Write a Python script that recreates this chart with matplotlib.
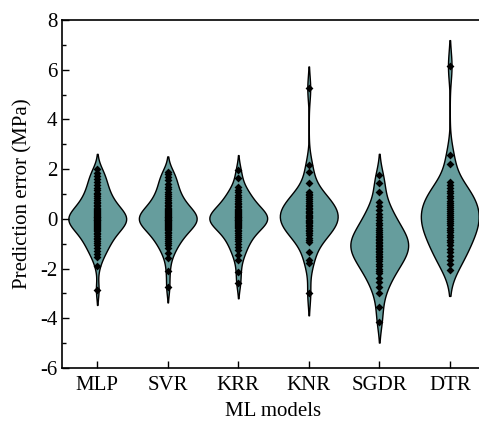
import matplotlib
matplotlib.use('Agg')
import matplotlib.pyplot as plt
import pandas as pd
import seaborn as sns

models = ['MLP', 'SVR', 'KRR', 'KNR', 'SGDR', 'DTR']

# prediction errors (MPa)
mlp = [2.0, 1.85, 1.72, 1.6, 1.48, 1.36, 1.25, 1.15, 1.06, 0.98, 0.9, 0.82, 0.75,
       0.68, 0.62, 0.56, 0.5, 0.45, 0.4, 0.35, 0.31, 0.27, 0.23, 0.19, 0.15, 0.12,
       0.09, 0.06, 0.03, 0.0, -0.03, -0.06, -0.09, -0.12, -0.15, -0.19, -0.23,
       -0.27, -0.31, -0.35, -0.4, -0.45, -0.5, -0.56, -0.62, -0.68, -0.75, -0.82,
       -0.9, -0.98, -1.07, -1.17, -1.28, -1.4, -1.52, -1.88, -2.85]
svr = [1.9, 1.8, 1.68, 1.55, 1.42, 1.3, 1.19, 1.09, 1.0, 0.92, 0.84, 0.76, 0.69,
       0.62, 0.56, 0.5, 0.45, 0.4, 0.35, 0.31, 0.27, 0.23, 0.19, 0.15, 0.12, 0.09,
       0.06, 0.03, 0.0, -0.03, -0.06, -0.09, -0.12, -0.15, -0.19, -0.23, -0.27,
       -0.31, -0.36, -0.41, -0.46, -0.52, -0.58, -0.65, -0.72, -0.8, -0.88, -0.97,
       -1.07, -1.18, -1.37, -1.58, -2.1, -2.75]
krr = [1.97, 1.64, 1.3, 1.18, 1.07, 0.97, 0.88, 0.8, 0.72, 0.65, 0.58, 0.52, 0.46,
       0.41, 0.36, 0.31, 0.27, 0.23, 0.19, 0.15, 0.12, 0.09, 0.06, 0.03, 0.0, -0.03,
       -0.06, -0.09, -0.12, -0.16, -0.2, -0.24, -0.28, -0.33, -0.38, -0.44, -0.5,
       -0.57, -0.64, -0.72, -0.81, -0.91, -1.02, -1.13, -1.25, -1.45, -1.65, -2.12,
       -2.6]
knr = [5.25, 2.17, 1.9, 1.44, 1.1, 1.02, 0.94, 0.86, 0.78, 0.7, 0.63, 0.56, 0.5,
       0.44, 0.38, 0.32, 0.27, 0.22, 0.17, 0.12, 0.07, 0.02, -0.03, -0.08, -0.13,
       -0.18, -0.24, -0.3, -0.36, -0.43, -0.5, -0.58, -0.66, -0.75, -0.84, -0.92,
       -1.32, -1.65, -1.78, -3.0]
sgdr = [1.77, 1.43, 1.1, 0.69, 0.5, 0.34, 0.2, 0.07, -0.05, -0.16, -0.26, -0.35,
        -0.44, -0.52, -0.6, -0.67, -0.74, -0.8, -0.86, -0.92, -0.98, -1.04, -1.1,
        -1.16, -1.22, -1.28, -1.34, -1.41, -1.48, -1.55, -1.63, -1.71, -1.8, -1.9,
        -2.0, -2.1, -2.19, -2.38, -2.55, -2.73, -3.0, -3.53, -4.13]
dtr = [6.15, 2.57, 2.21, 1.5, 1.38, 1.26, 1.14, 1.03, 0.93, 0.83, 0.73, 0.64, 0.55,
       0.46, 0.38, 0.3, 0.22, 0.14, 0.06, -0.02, -0.1, -0.18, -0.26, -0.35, -0.44,
       -0.53, -0.63, -0.73, -0.84, -0.95, -1.07, -1.2, -1.34, -1.49, -1.65, -1.83,
       -2.06]

values = [mlp, svr, krr, knr, sgdr, dtr]
df = pd.DataFrame({
    'model': [m for m, v in zip(models, values) for _ in v],
    'error': [e for v in values for e in v],
})

plt.rcParams['font.family'] = ['Liberation Serif', 'DejaVu Serif']
plt.rcParams['axes.unicode_minus'] = False

fig = plt.figure(figsize=(4.79, 4.23), dpi=100)
ax = fig.add_axes([62 / 479, 55 / 423, 423 / 479, 348 / 423])

sns.violinplot(data=df, x='model', y='error', order=models, ax=ax,
               color='#669d9d', saturation=1, linecolor='black', linewidth=1,
               inner=None, cut=1.8, bw_adjust=0.8, density_norm='width', width=0.82)
sns.stripplot(data=df, x='model', y='error', order=models, ax=ax,
              jitter=False, marker='D', size=4, color='black')

ax.set_xlim(-0.5, 5.5)
ax.set_ylim(-6, 8)
ax.set_yticks(range(-6, 9, 2))
ax.set_yticks(range(-5, 8, 2), minor=True)
ax.tick_params(direction='in', labelsize=15, length=5, width=1)
ax.tick_params(which='minor', direction='in', length=3, width=1)
ax.tick_params(axis='x', pad=6)
for s in ax.spines.values():
    s.set_linewidth(1.2)

ax.set_xlabel('ML models', fontsize=15, labelpad=5)
ax.set_ylabel('Prediction error (MPa)', fontsize=15, labelpad=5)

fig.savefig('out.png', dpi=100)
